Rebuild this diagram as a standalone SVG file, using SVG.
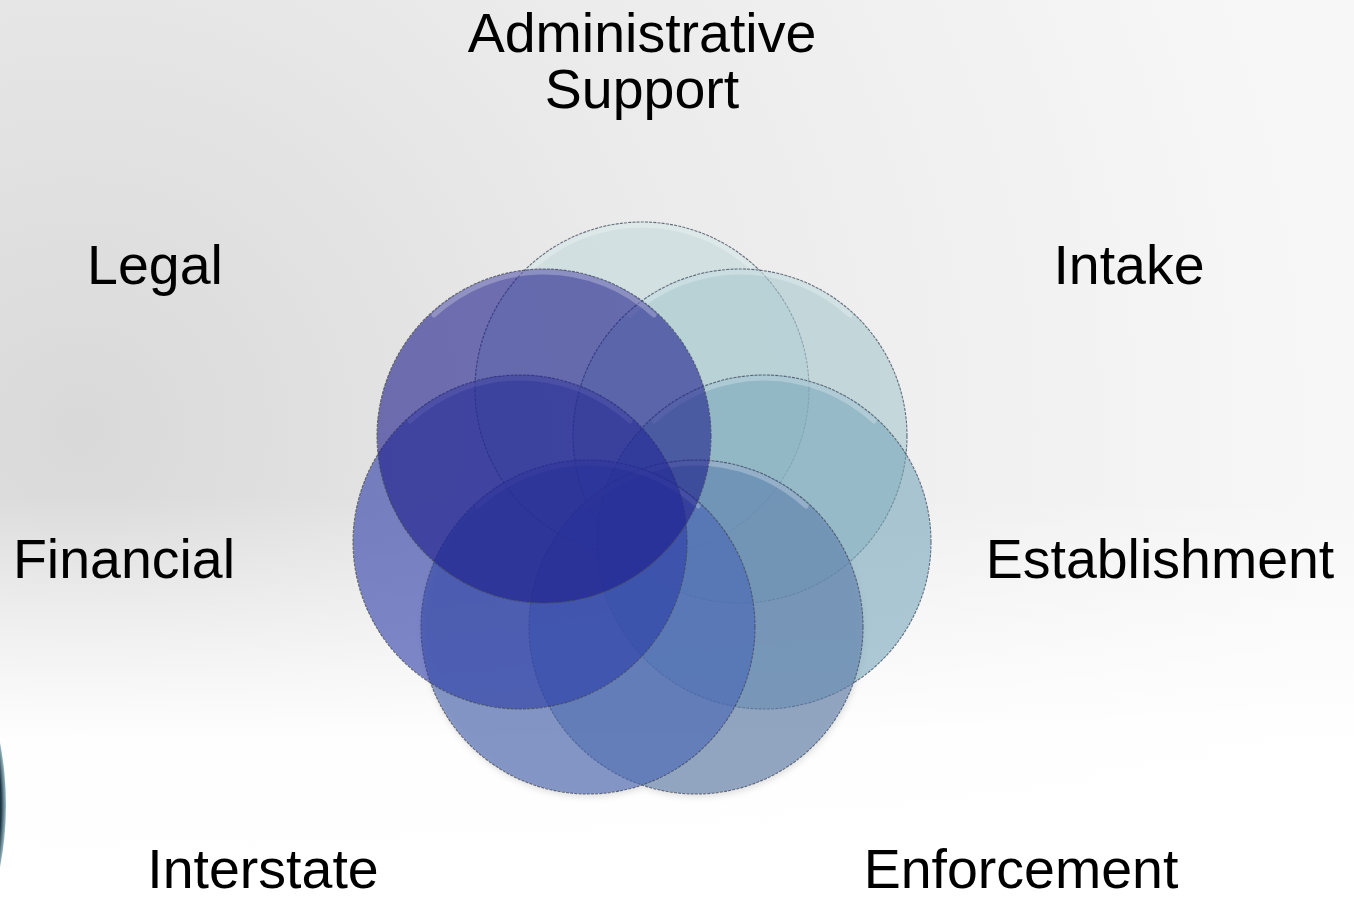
<svg xmlns="http://www.w3.org/2000/svg" width="1354" height="900" viewBox="0 0 1354 900">
<defs>
<radialGradient id="bg" cx="80" cy="430" r="1250" gradientUnits="userSpaceOnUse">
<stop offset="0" stop-color="#d9d9d9"/>
<stop offset="0.45" stop-color="#eaeaea"/>
<stop offset="1" stop-color="#f7f7f7"/>
</radialGradient>
<linearGradient id="fadeB" x1="0" y1="0" x2="0" y2="1">
<stop offset="0.55" stop-color="#ffffff" stop-opacity="0"/>
<stop offset="0.82" stop-color="#ffffff" stop-opacity="0.95"/>
<stop offset="1" stop-color="#ffffff" stop-opacity="1"/>
</linearGradient>
<radialGradient id="ring" cx="0.5" cy="0.5" r="0.5">
<stop offset="0.9" stop-color="#14242e"/>
<stop offset="0.985" stop-color="#1b3644"/>
<stop offset="1" stop-color="#5f8a98" stop-opacity="0.6"/>
</radialGradient>
<filter id="shadow" x="-20%" y="-20%" width="140%" height="140%">
<feGaussianBlur stdDeviation="3"/>
</filter>
</defs>
<style>
.c{stroke:#3e4456;stroke-width:1.1;stroke-opacity:0.75;stroke-dasharray:3 1.2;fill-opacity:0.6}
.hl{fill:none;stroke:#ffffff;stroke-width:5;stroke-opacity:0.25;stroke-linecap:round}
.t{font-family:"Liberation Sans",Arial,sans-serif;font-size:55.5px;fill:#000000;text-anchor:middle}
</style>
<rect x="0" y="0" width="1354" height="900" fill="url(#bg)"/>
<rect x="0" y="0" width="1354" height="900" fill="url(#fadeB)"/>
<circle cx="-322" cy="805" r="328" fill="url(#ring)"/>

<g id="shadows" opacity="0.25" filter="url(#shadow)">
<circle cx="589" cy="630" r="167" fill="#808080"/>
<circle cx="697" cy="630" r="167" fill="#808080"/>
</g>

<g id="node-admin">
<circle class="c" cx="642" cy="389" r="167" fill="#c1d9dc"/>
<path class="hl" d="M 532 268 A 162 162 0 0 1 752 268"/>
</g>
<g id="node-intake">
<circle class="c" cx="740" cy="436" r="167" fill="#a7c8cf"/>
<path class="hl" d="M 630 315 A 162 162 0 0 1 850 315"/>
</g>
<g id="node-establishment">
<circle class="c" cx="764" cy="542" r="167" fill="#78a7bb"/>
<path class="hl" d="M 654 421 A 162 162 0 0 1 874 421"/>
</g>
<g id="node-enforcement">
<circle class="c" cx="696" cy="627" r="167" fill="#5d7fad"/>
<path class="hl" d="M 586 506 A 162 162 0 0 1 806 506"/>
</g>
<g id="node-interstate">
<circle class="c" cx="588" cy="627" r="167" fill="#4664b4"/>
<path class="hl" d="M 478 506 A 162 162 0 0 1 698 506"/>
</g>
<g id="node-financial">
<circle class="c" cx="520" cy="542" r="167" fill="#2b3ca7"/>
<path class="hl" d="M 410 421 A 162 162 0 0 1 630 421"/>
</g>
<g id="node-legal">
<circle class="c" cx="544" cy="436" r="167" fill="#1c1c8a"/>
<path class="hl" d="M 434 315 A 162 162 0 0 1 654 315"/>
</g>

<g id="connectors"></g>

<g id="labels">
<text class="t" x="642" y="52">Administrative</text>
<text class="t" x="642" y="108">Support</text>
<text class="t" x="155" y="284">Legal</text>
<text class="t" x="1129" y="284">Intake</text>
<text class="t" x="124" y="578">Financial</text>
<text class="t" x="1160" y="578">Establishment</text>
<text class="t" x="263" y="888">Interstate</text>
<text class="t" x="1021" y="888">Enforcement</text>
</g>
</svg>
